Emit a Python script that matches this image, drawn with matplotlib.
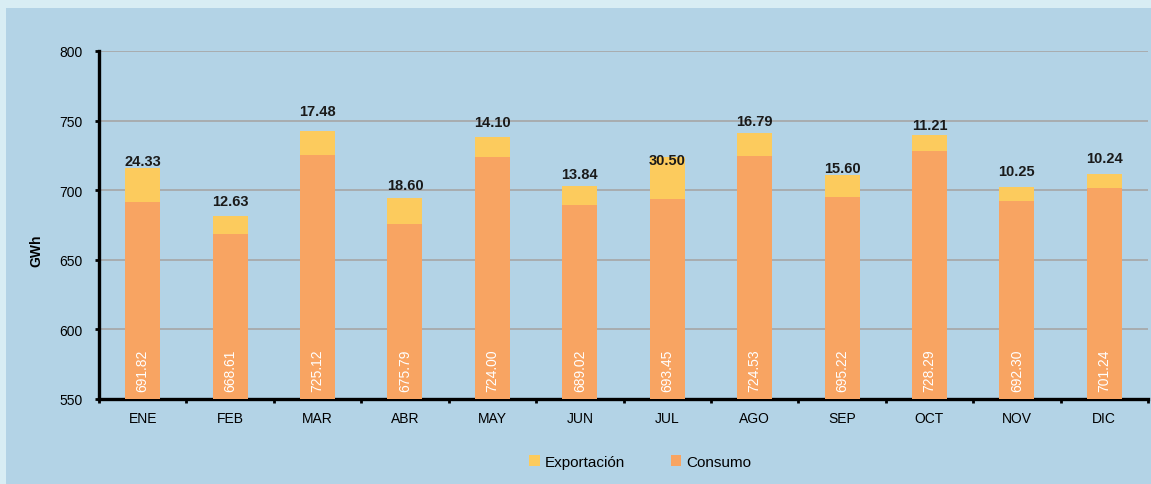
import matplotlib
matplotlib.use("Agg")
import matplotlib.pyplot as plt
from matplotlib.patches import Patch
from matplotlib import font_manager

months = ["ENE", "FEB", "MAR", "ABR", "MAY", "JUN", "JUL", "AGO", "SEP", "OCT", "NOV", "DIC"]
consumo = [691.82, 668.61, 725.12, 675.79, 724.00, 689.02, 693.45, 724.53, 695.22, 728.29, 692.30, 701.24]
exportacion = [24.33, 12.63, 17.48, 18.60, 14.10, 13.84, 30.50, 16.79, 15.60, 11.21, 10.25, 10.24]
yticks = [550, 600, 650, 700, 750, 800]

# manual placement of the top labels (pixels above the bar top), as in the original
label_lift_px = [7, 15, 20, 13, 15, 12, -3, 12, 7, 10, 16, 16]

names = {f.name for f in font_manager.fontManager.ttflist}
fam = "Liberation Sans Narrow" if "Liberation Sans Narrow" in names else "Liberation Sans"
plt.rcParams['font.family'] = [fam, 'DejaVu Sans']

C_EXP = "#FCCB5D"
C_CON = "#F8A462"
OUTER = "#D8EDF4"
PANEL = "#B3D3E6"

fig = plt.figure(figsize=(11.51, 4.85), dpi=100)
fig.patch.set_facecolor(OUTER)

bg = fig.add_axes([6/1151, 0, 1 - 6/1151, 1 - 9/485], zorder=-5)
bg.set_facecolor(PANEL)
bg.set_xticks([]); bg.set_yticks([])
for s in bg.spines.values():
    s.set_visible(False)

ax = fig.add_axes([99/1151, 1 - 400/485, (1148 - 99)/1151, (400 - 52)/485], zorder=1)
ax.set_facecolor('none')

x = list(range(len(months)))
w = 0.4
base = 550
ax.bar(x, [c - base for c in consumo], bottom=base, width=w, color=C_CON, zorder=3)
ax.bar(x, exportacion, bottom=consumo, width=w, color=C_EXP, zorder=3)

for i in x:
    ax.annotate(f"{exportacion[i]:.2f}", (i, consumo[i] + exportacion[i]),
                xytext=(0, label_lift_px[i]), textcoords='offset pixels',
                ha='center', va='center', fontsize=10.5,
                fontweight='bold', color='#1a1a1a', zorder=4)
    ax.annotate(f"{consumo[i]:.2f}", (i, base), xytext=(0, 8), textcoords='offset pixels',
                ha='center', va='bottom', rotation=90, fontsize=10, color='white', zorder=4)

ax.set_xlim(-0.5, len(months) - 0.5)
ax.set_ylim(550, 800)
ax.set_yticks(yticks)
ax.set_yticklabels([str(t) for t in yticks], fontsize=10)
ax.yaxis.grid(True, color='#A6A6A6', linewidth=1.2, zorder=1)
ax.set_axisbelow(True)

ax.set_xticks([i - 0.5 for i in range(len(months) + 1)])
ax.set_xticklabels([])
ax.set_xticks(x, minor=True)
ax.set_xticklabels(months, minor=True, fontsize=10)
ax.tick_params(axis='x', which='minor', length=0, pad=9)
ax.tick_params(axis='x', which='major', length=3, width=2, direction='out')
ax.tick_params(axis='y', length=3, width=2, direction='out', pad=9)

for s in ['top', 'right']:
    ax.spines[s].set_visible(False)
for s in ['left', 'bottom']:
    ax.spines[s].set_linewidth(2.4)
    ax.spines[s].set_color('black')

ax.set_ylabel("GWh", fontsize=10, fontweight='bold')
ax.yaxis.set_label_coords(-0.0534, 0.43)

handles = [Patch(facecolor=C_EXP, label="Exportación"), Patch(facecolor=C_CON, label="Consumo")]
fig.legend(handles=handles, loc='center', bbox_to_anchor=(640/1151, 1 - 463/485), ncol=2,
           frameon=False, fontsize=11, handlelength=0.7, handleheight=0.7,
           handletextpad=0.3, columnspacing=3.0)

fig.savefig("out.png", dpi=100, facecolor=OUTER)
